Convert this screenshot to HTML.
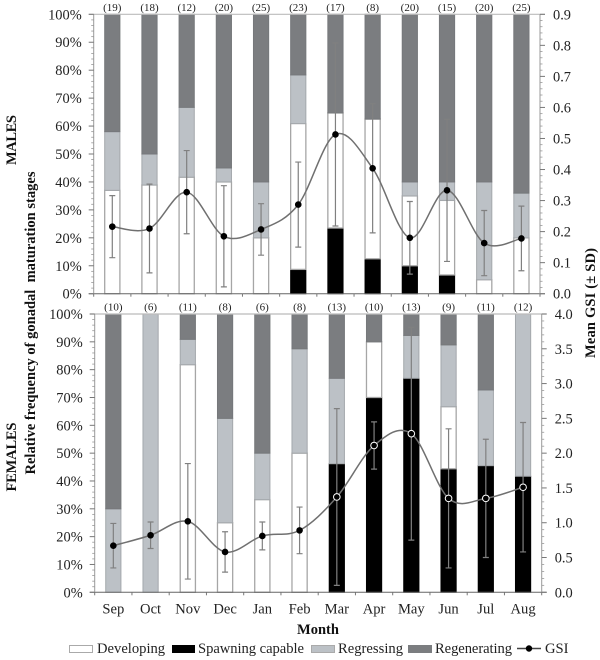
<!DOCTYPE html>
<html lang="en">
<head>
<meta charset="utf-8">
<title>Gonadal maturation stages and GSI by month</title>
<style>
html,body{margin:0;padding:0;background:#fff;width:600px;height:660px;overflow:hidden}
svg{display:block;filter:blur(0.3px)}
text{font-family:"Liberation Serif",serif;fill:#222}
.t{font-size:14.4px}
.n{font-size:11px;text-anchor:middle}
.b{font-weight:bold;font-size:14.5px;fill:#111}
.l{font-size:14.6px}
</style>
</head>
<body>
<svg id="chart" width="600" height="660" viewBox="0 0 600 660" xmlns="http://www.w3.org/2000/svg">
  <text class="b" transform="translate(16,140) rotate(-90)" text-anchor="middle" textLength="50">MALES</text>
  <text class="b" transform="translate(16,457) rotate(-90)" text-anchor="middle" textLength="69">FEMALES</text>
  <text class="b" transform="translate(35,323) rotate(-90)" text-anchor="middle" textLength="303" xml:space="preserve">Relative frequency of gonadal  maturation stages</text>
  <text class="b" transform="translate(595,303) rotate(-90)" text-anchor="middle" textLength="110" xml:space="preserve">Mean GSI (± SD)</text>
  <text class="b" x="318" y="634" text-anchor="middle">Month</text>

  <g>
    <rect x="69.5" y="645.5" width="23" height="7" fill="#fff" stroke="#aaa"/>
    <text class="l" x="97" y="653">Developing</text>
    <rect x="172" y="645" width="23" height="8" fill="#000"/>
    <text class="l" x="198" y="653" textLength="106">Spawning capable</text>
    <rect x="311.5" y="645.5" width="23" height="7" fill="#bcc1c6" stroke="#aaa"/>
    <text class="l" x="338" y="653" textLength="65">Regressing</text>
    <rect x="408" y="645" width="24" height="8" fill="#7b7d80"/>
    <text class="l" x="435" y="653" textLength="77">Regenerating</text>
    <line x1="517" x2="541" y1="648.5" y2="648.5" stroke="#444" stroke-width="1.4"/>
    <circle cx="529" cy="648.5" r="3.2" fill="#000"/>
    <text class="l" x="545" y="653">GSI</text>
  </g>
</svg>
<script>
var months = ['Sep','Oct','Nov','Dec','Jan','Feb','Mar','Apr','May','Jun','Jul','Aug'];
var percentTicks = [0,10,20,30,40,50,60,70,80,90,100];

var maleCounts = [19,18,12,20,25,23,17,8,20,15,20,25];
var maleSpawning = [0,0,0,0,0,8.7,23.5,12.5,10,6.7,0,0];
var maleDeveloping = [37,38.9,41.7,40,20,52.2,41.2,50,25,26.7,5,20];
var maleRegressing = [21,11.1,25,5,20,17.4,0,0,5,6.6,35,16];
var maleRegenerating = [42,50,33.3,55,60,21.7,35.3,37.5,60,60,60,64];
var maleGsi = [0.216,0.21,0.327,0.185,0.207,0.287,0.513,0.404,0.18,0.333,0.163,0.178];
var maleSd = [0.1,0.143,0.134,0.163,0.083,0.137,0.295,0.208,0.117,0.229,0.105,0.104];
var maleGsiTicks = [0,0.1,0.2,0.3,0.4,0.5,0.6,0.7,0.8,0.9];

var femaleCounts = [10,6,11,8,6,8,13,10,13,9,11,12];
var femaleSpawning = [0,0,0,0,0,0,46.2,70,76.9,44.4,45.5,41.7];
var femaleDeveloping = [0,0,81.8,25,33.3,50,0,20,0,22.3,0,0];
var femaleRegressing = [30,100,9.1,37.5,16.7,37.5,30.7,0,15.4,22.2,27.2,58.3];
var femaleRegenerating = [70,0,9.1,37.5,50,12.5,23.1,10,7.7,11.1,27.3,0];
var femaleGsi = [0.67,0.82,1.02,0.58,0.81,0.89,1.37,2.11,2.28,1.35,1.35,1.51];
var femaleSd = [0.32,0.19,0.83,0.29,0.2,0.335,1.27,0.34,1.53,1,0.85,0.93];
var femaleGsiTicks = [0,0.5,1,1.5,2,2.5,3,3.5,4];

var svg = document.getElementById('chart');
var NS = 'http://www.w3.org/2000/svg';

function mk(tag, attrs, parent) {
  var el = document.createElementNS(NS, tag);
  for (var k in attrs) el.setAttribute(k, attrs[k]);
  (parent || svg).appendChild(el);
  return el;
}

function drawPanel(p) {
  var group = mk('g', {});
  
  

  var band = (p.x1 - p.x0) / months.length;
  function xPos(i) { return p.x0 + band * (i + 0.5); }
  function yPct(v) { return p.y0 + (p.y1 - p.y0) * v / 100; }
  function yGsi(v) { return p.y0 + (p.y1 - p.y0) * v / p.gsiMax; }

  // Stacked bars
  var stages = [
    { key: 'spawning', values: p.spawning, fill: '#000', stroke: '#000', width: 1 },
    { key: 'developing', values: p.developing, fill: '#fff', stroke: '#a6a6a6', width: 1.3 },
    { key: 'regressing', values: p.regressing, fill: '#bcc1c6', stroke: '#a4a8ac', width: 1 },
    { key: 'regenerating', values: p.regenerating, fill: '#7b7d80', stroke: '#76787b', width: 1 }
  ];
  months.forEach(function (m, i) {
    var base = 0;
    stages.forEach(function (s) {
      var v = s.values[i];
      if (v <= 0) return;
      var top = base + v;
      var r = mk('rect', {
        x: xPos(i) - 7.6, y: yPct(top), width: 15.2, height: yPct(base) - yPct(top),
        fill: s.fill, stroke: s.stroke, 'stroke-width': s.width
      }, group);
      
      
      base = top;
    });
  });

  // Axes
  var top = mk('line', { x1: p.x0 - 5, x2: p.x1 + 5, y1: p.y1, y2: p.y1, stroke: '#bbb', 'stroke-width': 1.2 }, group);
  
  
  var bottom = mk('line', { x1: p.x0 - 5, x2: p.x1 + 5, y1: p.y0, y2: p.y0, stroke: '#666', 'stroke-width': 1 }, group);
  
  
  var la = mk('line', { x1: p.x0, x2: p.x0, y1: p.y1, y2: p.y0, stroke: '#999', 'stroke-width': 1 }, group);
  
  
  var ra = mk('line', { x1: p.x1, x2: p.x1, y1: p.y1, y2: p.y0, stroke: '#999', 'stroke-width': 1 }, group);
  
  

  // X ticks
  for (var b = 0; b <= months.length; b++) {
    var xt = mk('line', { x1: p.x0 + band * b, x2: p.x0 + band * b, y1: p.y0, y2: p.y0 + 3, stroke: '#777', 'stroke-width': 1 }, group);
    
    
  }

  // Left ticks and labels
  percentTicks.forEach(function (t, i) {
    var yy = yPct(t);
    var tk = mk('line', { x1: p.x0 - 5, x2: p.x0, y1: yy, y2: yy, stroke: '#777', 'stroke-width': 1 }, group);
    
    
    var lb = mk('text', { x: p.x0 - 12, y: yy + 5, 'text-anchor': 'end', 'class': 't' }, group);
    
    
    lb.textContent = t + '%';
    if (i < percentTicks.length - 1) {
      var step = (percentTicks[i + 1] - t) / 5;
      for (var k = 1; k < 5; k++) {
        var my = yPct(t + step * k);
        var mn = mk('line', { x1: p.x0 - 2.5, x2: p.x0, y1: my, y2: my, stroke: '#999', 'stroke-width': 0.8 }, group);
        
        
      }
    }
  });

  // Right ticks and labels
  p.gsiTicks.forEach(function (t, i) {
    var yy = yGsi(t);
    var tk = mk('line', { x1: p.x1, x2: p.x1 + 5, y1: yy, y2: yy, stroke: '#777', 'stroke-width': 1 }, group);
    
    
    var lb = mk('text', { x: p.x1 + 13, y: yy + 5, 'class': 't' }, group);
    
    
    lb.textContent = t.toFixed(1);
    if (i < p.gsiTicks.length - 1) {
      var step = (p.gsiTicks[i + 1] - t) / 5;
      for (var k = 1; k < 5; k++) {
        var my = yGsi(t + step * k);
        var mn = mk('line', { x1: p.x1, x2: p.x1 + 2.5, y1: my, y2: my, stroke: '#999', 'stroke-width': 0.8 }, group);
        
        
      }
    }
  });

  // Sample sizes and month labels
  months.forEach(function (m, i) {
    var n = mk('text', { x: xPos(i), y: p.y1 - 3.5, 'class': 'n' }, group);
    
    
    n.textContent = '(' + p.counts[i] + ')';
    if (p.showMonths) {
      var ml = mk('text', { x: xPos(i), y: p.y0 + 21, 'text-anchor': 'middle', 'class': 'l' }, group);
      
      
      ml.textContent = m;
    }
  });

  // Error bars
  months.forEach(function (m, i) {
    var lo = yGsi(p.gsi[i] - p.sd[i]);
    var hi = yGsi(p.gsi[i] + p.sd[i]);
    var cx = xPos(i);
    var d = 'M' + cx + ' ' + lo + 'V' + hi + 'M' + (cx - 3) + ' ' + lo + 'H' + (cx + 3) + 'M' + (cx - 3) + ' ' + hi + 'H' + (cx + 3);
    var eb = mk('path', { d: d, fill: 'none', stroke: '#808080', 'stroke-width': 1.2 }, group);
    
    
  });

  // Smoothed GSI line
  var pts = months.map(function (m, i) { return [xPos(i), yGsi(p.gsi[i])]; });
  var path = 'M' + pts[0][0] + ' ' + pts[0][1];
  for (var j = 0; j < pts.length - 1; j++) {
    var a = pts[Math.max(j - 1, 0)], c = pts[j], e = pts[j + 1], f = pts[Math.min(j + 2, pts.length - 1)];
    path += 'C' + (c[0] + (e[0] - a[0]) / 6) + ' ' + (c[1] + (e[1] - a[1]) / 6) + ' ' +
      (e[0] - (f[0] - c[0]) / 6) + ' ' + (e[1] - (f[1] - c[1]) / 6) + ' ' + e[0] + ' ' + e[1];
  }
  var line = mk('path', { d: path, fill: 'none', stroke: '#707070', 'stroke-width': 1.5 }, group);
  
  

  // Markers: a white ring keeps the point visible on black bar segments
  months.forEach(function (m, i) {
    var onBlack = p.gsi[i] / p.gsiMax * 100 < p.spawning[i];
    var dot = mk('circle', {
      cx: xPos(i), cy: yGsi(p.gsi[i]), r: onBlack ? 3.3 : 3,
      fill: '#000', stroke: onBlack ? '#fff' : '#000', 'stroke-width': onBlack ? 1 : 0.6
    }, group);
    
    
  });
}

drawPanel({
  name: 'males', x0: 93.7, x1: 540, y0: 293.7, y1: 14.3, gsiMax: 0.9, gsiTicks: maleGsiTicks,
  counts: maleCounts, spawning: maleSpawning, developing: maleDeveloping,
  regressing: maleRegressing, regenerating: maleRegenerating, gsi: maleGsi, sd: maleSd, showMonths: false
});
drawPanel({
  name: 'females', x0: 94.7, x1: 541.7, y0: 592.3, y1: 314, gsiMax: 4, gsiTicks: femaleGsiTicks,
  counts: femaleCounts, spawning: femaleSpawning, developing: femaleDeveloping,
  regressing: femaleRegressing, regenerating: femaleRegenerating, gsi: femaleGsi, sd: femaleSd, showMonths: true
});
</script>
</body>
</html>
